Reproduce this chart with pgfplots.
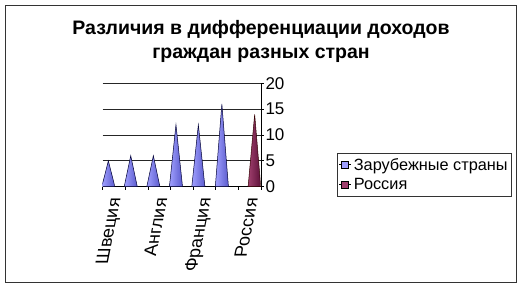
\documentclass[border=0pt]{standalone}
\usepackage{pgfplots}
\pgfplotsset{compat=1.18}
\usepackage{fontspec}
\setmainfont{Liberation Sans}
\definecolor{cone}{HTML}{A0A0FF}
\definecolor{conedark}{HTML}{5A5ACC}
\definecolor{rus}{HTML}{A0406E}
\definecolor{rusdark}{HTML}{5C1038}
\definecolor{framec}{HTML}{333333}
\begin{document}
\begin{tikzpicture}[x=1pt,y=1pt]
\useasboundingbox (0,0) rectangle (522,-287);
\draw[framec, line width=1pt] (5,-5) rectangle (516,-282);
\node[font=\fontsize{19.5}{24}\selectfont\bfseries, align=center] at (261,-41) {Различия в дифференциации доходов\\граждан разных стран};
\begin{axis}[
  at={(102.7pt,-186.7pt)}, anchor=south west,
  scale only axis, width=158.3pt, height=103.4pt,
  xmin=0.5, xmax=7.5, ymin=0, ymax=20,
  axis x line*=bottom, axis y line*=right,
  axis line style={black, line width=0.8pt},
  tick align=outside,
  xtick={1,3,5,7},
  xticklabels={Швеция, Англия, Франция, Россия},
  major x tick style={draw=none},
  minor xtick={0.5,1.5,2.5,3.5,4.5,5.5,6.5,7.5},
  minor tick length=3pt,
  major tick length=3pt,
  minor x tick style={black, line width=0.6pt},
  ytick={0,5,10,15,20},
  ymajorgrids,
  grid style={black!85, line width=0.8pt},
  y tick style={black, line width=0.8pt},
  /pgf/number format/assume math mode=true,
  yticklabel style={font=\fontsize{17}{20}\selectfont, xshift=-2pt},
  xticklabel style={font=\fontsize{18}{21}\selectfont, anchor=east, cm={0.2,1,-1,0,(0,0)}, yshift=-4pt, xshift=-5pt},
  legend style={at={(1.478,0.329)}, anchor=north west, draw=framec, line width=0.8pt,
    font=\fontsize{16.3}{19}\selectfont, inner xsep=2pt, inner ysep=3pt, row sep=3pt},
  legend cell align=left,
]
\addlegendimage{legend image code/.code={\path (0pt,0pt) -- (12pt,0pt); \draw[fill=cone, draw=black, line width=0.5pt] (2pt,-3.5pt) rectangle (9pt,3.5pt);}}
\addlegendentry{Зарубежные страны}
\addlegendimage{legend image code/.code={\path (0pt,0pt) -- (12pt,0pt); \draw[fill=rus, draw=black, line width=0.5pt] (2pt,-3.5pt) rectangle (9pt,3.5pt);}}
\addlegendentry{Россия}
% Зарубежные страны
\addplot[forget plot, draw=black!80!blue, line width=0.5pt, left color=cone, right color=conedark] coordinates {(0.46,0) (0.75,5) (1.04,0)} -- cycle;
\addplot[forget plot, draw=black!80!blue, line width=0.5pt, left color=cone, right color=conedark] coordinates {(1.45,0) (1.74,6) (2.03,0)} -- cycle;
\addplot[forget plot, draw=black!80!blue, line width=0.5pt, left color=cone, right color=conedark] coordinates {(2.45,0) (2.74,6) (3.03,0)} -- cycle;
\addplot[forget plot, draw=black!80!blue, line width=0.5pt, left color=cone, right color=conedark] coordinates {(3.45,0) (3.74,12) (4.03,0)} -- cycle;
\addplot[forget plot, draw=black!80!blue, line width=0.5pt, left color=cone, right color=conedark] coordinates {(4.44,0) (4.73,12) (5.02,0)} -- cycle;
\addplot[forget plot, draw=black!80!blue, line width=0.5pt, left color=cone, right color=conedark] coordinates {(5.48,0) (5.77,16) (6.06,0)} -- cycle;
% Россия
\addplot[forget plot, draw=black!80!red, line width=0.5pt, left color=rus, right color=rusdark] coordinates {(6.93,0) (7.22,14) (7.49,0)} -- cycle;
\end{axis}
\end{tikzpicture}
\end{document}
